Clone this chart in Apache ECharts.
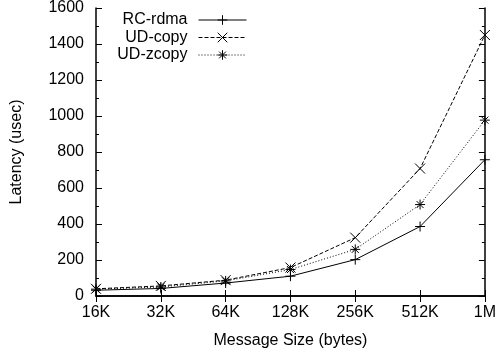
<!DOCTYPE html>
<html><head><meta charset="utf-8">
<script src="https://cdn.jsdelivr.net/npm/echarts@6/dist/echarts.min.js"></script>
<style>html,body{margin:0;padding:0;background:#fff}#c{width:499px;height:356px}</style>
</head><body><div id="c"></div>
<script>
var categories = ['16K','32K','64K','128K','256K','512K','1M'];
var rcRdma = [32, 42, 72, 110, 202, 386, 757];
var udCopy = [40, 56, 88, 158, 324, 708, 1450];
var udZcopy = [38, 50, 84, 147, 259, 508, 977];
var seriesNames = ['RC-rdma', 'UD-copy', 'UD-zcopy'];
var yTicks = {min: 0, max: 1600, interval: 200};

var FONT = '"Liberation Sans", Arial, sans-serif';
var symPlus = 'path://M5,0V10M0,5H10';
var symCross = 'path://M0,0L10,10M10,0L0,10';
var symStar = 'path://M5,0V10M0,5H10M1.5,1.5L8.5,8.5M8.5,1.5L1.5,8.5';

function mkSeries(name, data, sym, type, size) {
  return {
    name: name, type: 'line', data: data, xAxisIndex: 0, yAxisIndex: 0,
    symbol: sym, symbolSize: size, showSymbol: true, symbolKeepAspect: true,
    itemStyle: {color: 'none', borderColor: '#000', borderWidth: 1},
    lineStyle: {color: '#000', width: 1, type: type},
    emphasis: {disabled: true}, animation: false
  };
}

var axisCommon = {
  axisLine: {show: true, lineStyle: {color: '#000', width: 1.5}},
  axisTick: {show: true, inside: true, length: 6, lineStyle: {color: '#000', width: 1}},
  splitLine: {show: false}
};

var chart = echarts.init(document.getElementById('c'), null, {renderer: 'canvas'});
chart.setOption({
  backgroundColor: '#fff',
  animation: false,
  grid: {left: 96, right: 13, top: 6, bottom: 60, containLabel: false},
  legend: {
    orient: 'vertical', align: 'right', right: 252, top: 12, padding: 0,
    itemWidth: 48, itemHeight: 12, itemGap: 1.5,
    itemStyle: {color: 'none', borderColor: '#000', borderWidth: 1},
    lineStyle: {width: 1},
    textStyle: {fontFamily: FONT, fontSize: 16, color: '#000', lineHeight: 16, padding: [0, 6, 0, 0]},
    data: seriesNames
  },
  xAxis: [
    Object.assign({}, axisCommon, {
      type: 'category', data: categories, boundaryGap: false, position: 'bottom',
      axisLabel: {fontFamily: FONT, fontSize: 16, color: '#000', margin: 9},
      name: 'Message Size (bytes)', nameLocation: 'middle', nameGap: 37,
      nameTextStyle: {fontFamily: FONT, fontSize: 16, color: '#000'}
    }),
    Object.assign({}, axisCommon, {
      type: 'category', data: categories, boundaryGap: false, position: 'top',
      axisLabel: {show: false}
    })
  ],
  yAxis: [
    Object.assign({}, axisCommon, {
      type: 'value', min: yTicks.min, max: yTicks.max, interval: yTicks.interval, position: 'left',
      axisLabel: {fontFamily: FONT, fontSize: 16, color: '#000', margin: 12, formatter: function (v) { return String(v); }},
      minorTick: {show: true, splitNumber: 2, length: 3, lineStyle: {color: '#000', width: 1}},
      name: 'Latency (usec)', nameLocation: 'middle', nameGap: 71, nameRotate: 90,
      nameTextStyle: {fontFamily: FONT, fontSize: 16, color: '#000'}
    }),
    Object.assign({}, axisCommon, {
      type: 'value', min: yTicks.min, max: yTicks.max, interval: yTicks.interval, position: 'right',
      axisLabel: {show: false},
      minorTick: {show: true, splitNumber: 2, length: 3, lineStyle: {color: '#000', width: 1}}
    })
  ],
  series: [
    mkSeries(seriesNames[0], rcRdma, symPlus, 'solid', 10),
    mkSeries(seriesNames[1], udCopy, symCross, [4, 2], 10),
    mkSeries(seriesNames[2], udZcopy, symStar, [1, 2], 10)
  ]
});
</script></body></html>
